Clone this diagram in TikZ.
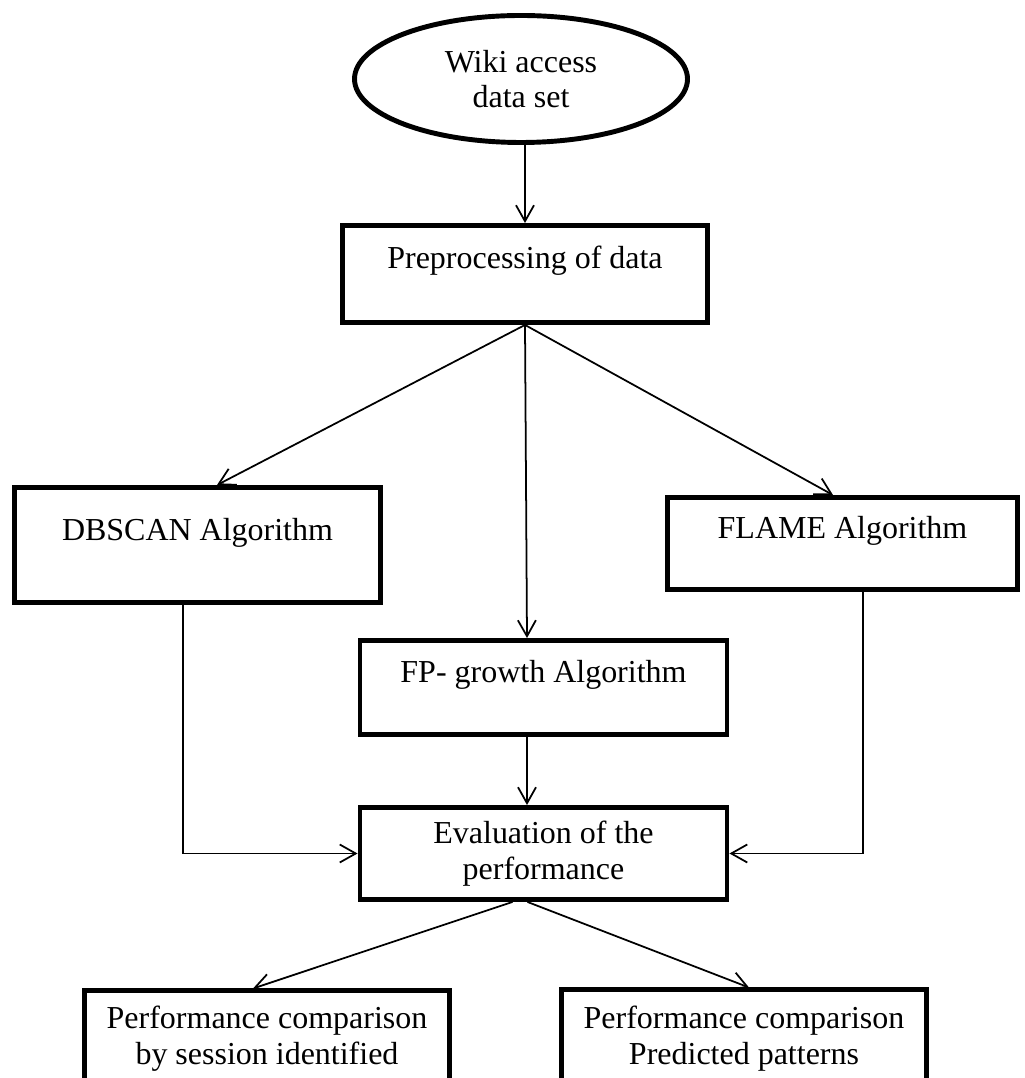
\documentclass[tikz,border=0pt]{standalone}
\usepackage{fontspec}
\setmainfont{Liberation Serif}
\usetikzlibrary{shapes.geometric,arrows.meta}
\begin{document}
\begin{tikzpicture}[x=1cm,y=1cm,line width=1pt,font=\fontsize{18.2}{20.3}\selectfont,
  box/.style={draw,line width=2.8pt,inner sep=0pt,align=center},
  flow/.style={-{Straight Barb[length=3.2mm,width=3.6mm]}}]
\useasboundingbox (0,0) rectangle (20.48,21.56);
\node[box,ellipse,minimum width=6.66cm,minimum height=2.54cm] (wiki) at (10.42,19.98) {Wiki access\\data set};
\node[box,minimum width=7.3cm,text height=0.87cm,text depth=1.07cm,anchor=base] (prep) at (10.5,16.18) {Preprocessing of data};
\node[box,minimum width=7.32cm,text height=1.07cm,text depth=1.23cm,anchor=base] (dbscan) at (3.95,10.74) {DBSCAN Algorithm};
\node[box,minimum width=7cm,text height=0.83cm,text depth=1.01cm,anchor=base] (flame) at (16.85,10.78) {FLAME Algorithm};
\node[box,minimum width=7.34cm,text height=0.85cm,text depth=1.03cm,anchor=base] (fp) at (10.87,7.9) {FP- growth Algorithm};
\node[box,minimum width=7.34cm,minimum height=1.84cm] (eval) at (10.87,4.49) {Evaluation of the\\performance};
\node[box,minimum width=7.3cm,minimum height=1.92cm,anchor=north] (cmpsess) at (5.34,1.79) {Performance comparison\\by session identified};
\node[box,minimum width=7.3cm,minimum height=1.94cm,anchor=north] (cmppat) at (14.88,1.81) {Performance comparison\\Predicted patterns};
\draw[flow] (wiki.south -| prep.north) -- (prep.north);
\draw[flow] (prep.south) -- ([xshift=3.9mm]dbscan.north);
\draw[flow] (prep.south) -- ([xshift=-3.3mm]fp.north);
\draw[flow] (prep.south) -- ([xshift=-1.9mm]flame.north);
\draw[flow] ([xshift=-3.3mm]fp.south) -- ([xshift=-3.3mm]eval.north);
\draw[flow] ([xshift=-2.9mm]dbscan.south) |- (eval.west);
\draw[flow] ([xshift=4.1mm]flame.south) |- (eval.east);
\draw[flow] ([xshift=-6.2mm]eval.south) -- ([xshift=-2.8mm]cmpsess.north);
\draw[flow] ([xshift=-3.2mm]eval.south) -- ([xshift=1mm]cmppat.north);
\end{tikzpicture}
\end{document}
